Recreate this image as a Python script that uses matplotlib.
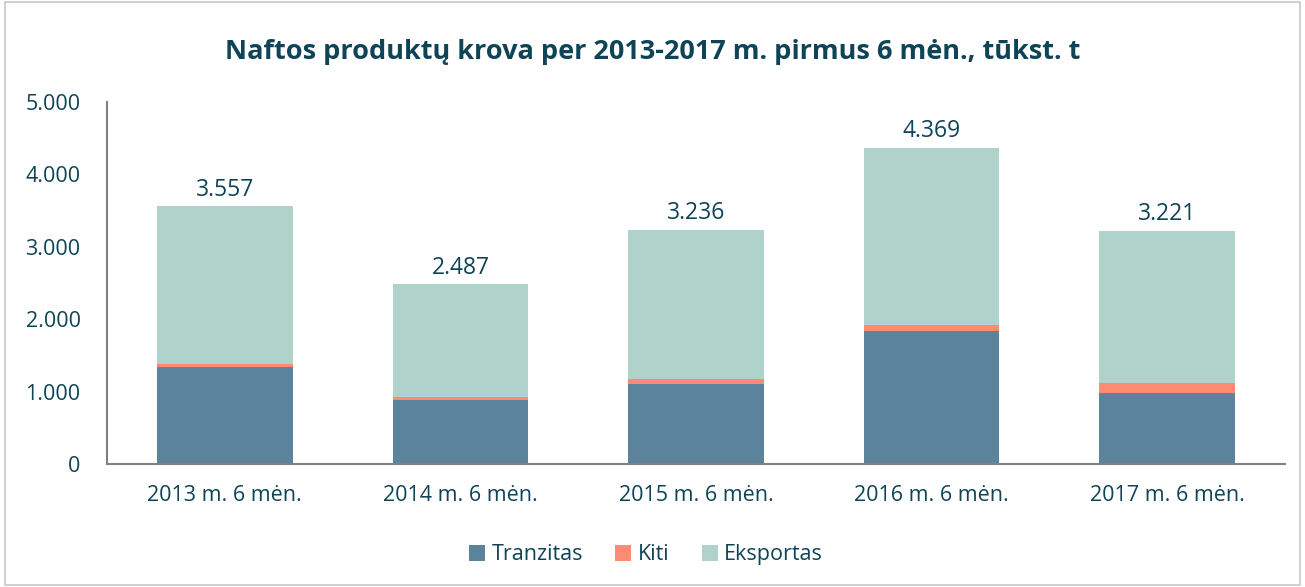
import matplotlib.pyplot as plt
from matplotlib.patches import Rectangle
from matplotlib.ticker import FuncFormatter

# data, thousand tonnes
periods = ["2013 m. 6 mėn.", "2014 m. 6 mėn.", "2015 m. 6 mėn.", "2016 m. 6 mėn.", "2017 m. 6 mėn."]
totals = [3557, 2487, 3236, 4369, 3221]
tranzitas = [1335, 884, 1104, 1835, 984]
kiti = [50, 45, 70, 83, 134]
eksportas = [t - a - b for t, a, b in zip(totals, tranzitas, kiti)]

txt = "#0f4456"
plt.rcParams['font.family'] = ['Open Sans', 'DejaVu Sans']

fig = plt.figure(figsize=(13.05, 5.87), dpi=100)
ax = fig.add_axes([0.082, 0.2095, 0.9027, 0.6167])

x = range(len(periods))
w = 0.575
ax.bar(x, tranzitas, w, color="#5b849c", label="Tranzitas")
ax.bar(x, kiti, w, bottom=tranzitas, color="#ff8a73", label="Kiti")
bot = [a + b for a, b in zip(tranzitas, kiti)]
ax.bar(x, eksportas, w, bottom=bot, color="#afd2ca", label="Eksportas")

for i, t in enumerate(totals):
    ax.text(i, t + 60, f"{t:,}".replace(",", "."), ha="center", va="bottom", fontsize=16.5, color=txt)

ax.set_xlim(-0.5, len(periods) - 0.5)
ax.set_ylim(0, 5000)
ax.set_yticks(range(0, 5001, 1000))
ax.yaxis.set_major_formatter(FuncFormatter(lambda v, p: f"{int(v):,}".replace(",", ".")))
ax.set_xticks(list(x))
ax.set_xticklabels(periods)
ax.tick_params(axis="both", length=0, labelsize=15.5, colors=txt)
ax.tick_params(axis="x", pad=15)
ax.tick_params(axis="y", pad=19)
for s in ["top", "right"]:
    ax.spines[s].set_visible(False)
for s in ["left", "bottom"]:
    ax.spines[s].set_color("#808080")
    ax.spines[s].set_linewidth(1.5)

fig.text(0.5, 0.911, "Naftos produktų krova per 2013-2017 m. pirmus 6 mėn., tūkst. t",
         ha="center", va="center", fontsize=19.5, fontweight="bold", color=txt)

leg = fig.legend(loc="center", bbox_to_anchor=(0.495, 0.055), ncol=3, frameon=False,
                 fontsize=15.5, handlelength=0.75, handleheight=0.75, handletextpad=0.3,
                 columnspacing=1.5, labelcolor=txt)

fig.patches.append(Rectangle((0.004, 0.003), 0.992, 0.994, transform=fig.transFigure,
                             fill=False, edgecolor="#c8c8c8", linewidth=1.2))

fig.savefig("out.png", dpi=100)
